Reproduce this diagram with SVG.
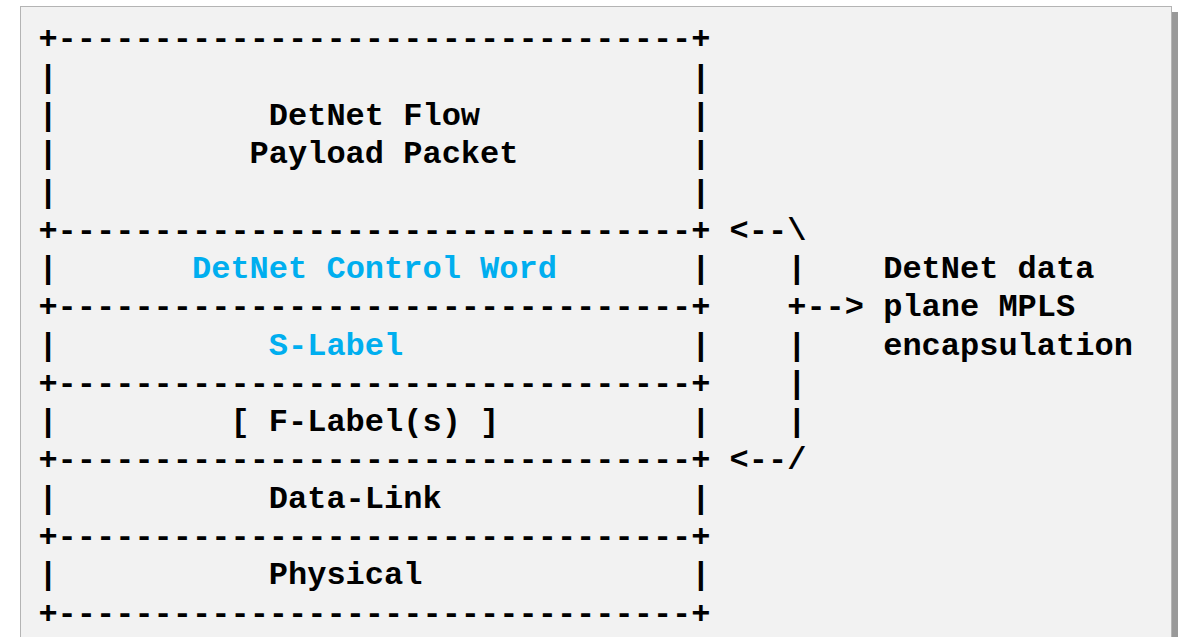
<svg xmlns="http://www.w3.org/2000/svg" width="1182" height="637" viewBox="0 0 1182 637">
<style>
text{font-family:"Liberation Mono","DejaVu Sans Mono",monospace;font-size:32px;font-weight:bold;fill:#000;white-space:pre}
.b{fill:#00aeef}
</style>
<rect x="0" y="0" width="1182" height="637" fill="#ffffff"/>
<rect x="26" y="12" width="1152" height="640" fill="#999999"/>
<rect x="20.5" y="6.5" width="1151" height="640" fill="#f2f2f2" stroke="#b4b4b4" stroke-width="1"/>
<g id="payload">
<text x="38.4" y="48.4">+---------------------------------+</text>
<text x="38.4" y="86.7">|</text><text x="691.2" y="86.7">|</text>
<text x="38.4" y="124.9">|</text><text x="268.8" y="124.9">DetNet Flow</text><text x="691.2" y="124.9">|</text>
<text x="38.4" y="163.2">|</text><text x="249.6" y="163.2">Payload Packet</text><text x="691.2" y="163.2">|</text>
<text x="38.4" y="201.5">|</text><text x="691.2" y="201.5">|</text>
<text x="38.4" y="239.8">+---------------------------------+</text>
</g>
<g id="control-word">
<text x="38.4" y="278">|</text><text class="b" x="192" y="278">DetNet Control Word</text><text x="691.2" y="278">|</text>
<text x="38.4" y="316.3">+---------------------------------+</text>
</g>
<g id="s-label">
<text x="38.4" y="354.6">|</text><text class="b" x="268.8" y="354.6">S-Label</text><text x="691.2" y="354.6">|</text>
<text x="38.4" y="392.8">+---------------------------------+</text>
</g>
<g id="f-label">
<text x="38.4" y="431.1">|</text><text x="230.4" y="431.1">[ F-Label(s) ]</text><text x="691.2" y="431.1">|</text>
<text x="38.4" y="469.4">+---------------------------------+</text>
</g>
<g id="data-link">
<text x="38.4" y="507.6">|</text><text x="268.8" y="507.6">Data-Link</text><text x="691.2" y="507.6">|</text>
<text x="38.4" y="545.9">+---------------------------------+</text>
</g>
<g id="physical">
<text x="38.4" y="584.2">|</text><text x="268.8" y="584.2">Physical</text><text x="691.2" y="584.2">|</text>
<text x="38.4" y="622.5">+---------------------------------+</text>
</g>
<g id="connectors">
<text x="729.6" y="239.8">&lt;--\</text>
<text x="787.2" y="278">|</text>
<text x="787.2" y="316.3">+--&gt;</text>
<text x="787.2" y="354.6">|</text>
<text x="787.2" y="392.8">|</text>
<text x="787.2" y="431.1">|</text>
<text x="729.6" y="469.4">&lt;--/</text>
</g>
<g id="encapsulation-label">
<text x="883.2" y="278">DetNet data</text>
<text x="883.2" y="316.3">plane MPLS</text>
<text x="883.2" y="354.6">encapsulation</text>
</g>
</svg>
